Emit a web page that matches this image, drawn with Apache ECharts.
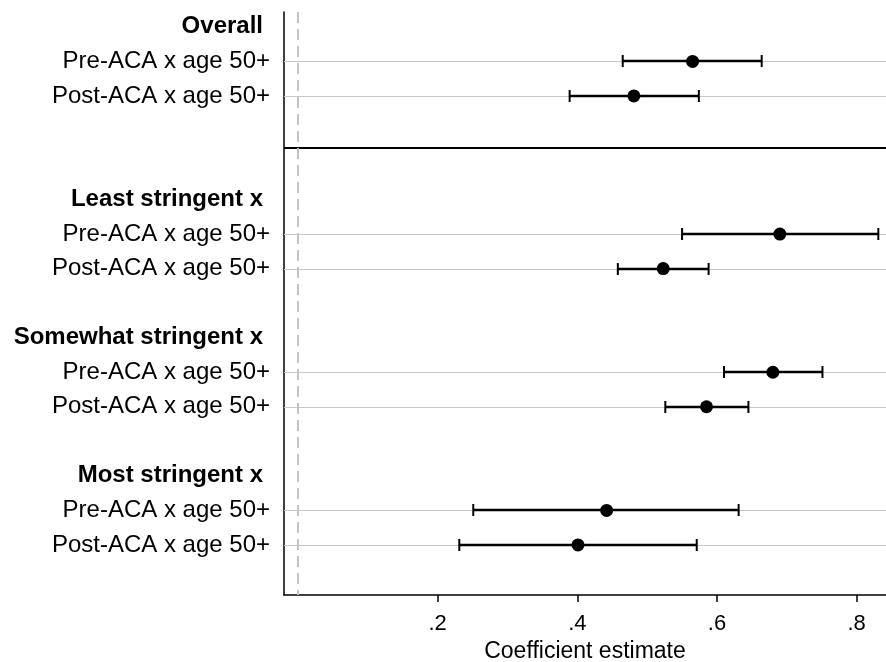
<!DOCTYPE html>
<html>
<head>
<meta charset="utf-8">
<script src="https://cdn.jsdelivr.net/npm/echarts@6/dist/echarts.min.js"></script>
<style>
html,body{margin:0;padding:0;background:#fff;}
#chart{width:886px;height:662px;}
</style>
</head>
<body>
<div id="chart"></div>
<script>
// Row labels (row index = position from top)
const rowLabels = [
  'Overall', 'Pre-ACA x age 50+', 'Post-ACA x age 50+', '', '',
  'Least stringent x', 'Pre-ACA x age 50+', 'Post-ACA x age 50+', '',
  'Somewhat stringent x', 'Pre-ACA x age 50+', 'Post-ACA x age 50+', '',
  'Most stringent x', 'Pre-ACA x age 50+', 'Post-ACA x age 50+'
];
const headerRows = [0, 5, 9, 13];
const coefRows = [1, 2, 6, 7, 10, 11, 14, 15];
const estimates = [0.565, 0.481, 0.690, 0.523, 0.680, 0.585, 0.442, 0.401];
const lowerCI  = [0.465, 0.389, 0.550, 0.458, 0.610, 0.526, 0.251, 0.231];
const upperCI  = [0.664, 0.574, 0.831, 0.588, 0.751, 0.645, 0.631, 0.571];
const xTicks = [0.2, 0.4, 0.6, 0.8];
const separatorRows = [3.5];
const referenceX = [0];

const labelRows = headerRows.concat(coefRows).sort((a, b) => a - b);
const FONT = 'Liberation Sans, Arial, Helvetica, sans-serif';

const chart = echarts.init(document.getElementById('chart'), null, {renderer: 'canvas'});

const ciData = coefRows.map((r, i) => [lowerCI[i], upperCI[i], r]);
const pointData = coefRows.map((r, i) => [estimates[i], r]);

function renderCI(params, api) {
  const lo = api.coord([api.value(0), api.value(2)]);
  const hi = api.coord([api.value(1), api.value(2)]);
  const cs = params.coordSys;
  const y = Math.round(lo[1]);
  const capH = 6;
  return {
    type: 'group',
    children: [
      {type: 'line', z2: 0, shape: {x1: cs.x, y1: y + 0.5, x2: cs.x + cs.width, y2: y + 0.5},
        style: {stroke: '#c8c8c8', lineWidth: 1}},
      {type: 'line', z2: 2, shape: {x1: lo[0], y1: y, x2: hi[0], y2: y},
        style: {stroke: '#000', lineWidth: 2.4}},
      {type: 'line', z2: 2, shape: {x1: lo[0], y1: y - capH, x2: lo[0], y2: y + capH},
        style: {stroke: '#000', lineWidth: 2}},
      {type: 'line', z2: 2, shape: {x1: hi[0], y1: y - capH, x2: hi[0], y2: y + capH},
        style: {stroke: '#000', lineWidth: 2}}
    ]
  };
}

const option = {
  animation: false,
  backgroundColor: '#fff',
  textStyle: {fontFamily: FONT},
  grid: {left: 284, right: 0, top: 12, bottom: 67, containLabel: false, outerBoundsMode: 'none'},
  xAxis: {
    type: 'value',
    position: 'bottom',
    min: -0.02,
    max: 0.842,
    name: 'Coefficient estimate',
    nameLocation: 'middle',
    nameGap: 40,
    nameTextStyle: {fontFamily: FONT, fontSize: 23, color: '#000'},
    axisLine: {show: true, onZero: false, lineStyle: {color: '#000', width: 1.5}},
    axisTick: {show: true, customValues: xTicks, length: 7, lineStyle: {color: '#000', width: 1.5}},
    axisLabel: {
      customValues: xTicks, margin: 18, fontFamily: FONT, fontSize: 22, color: '#000',
      formatter: v => String(Math.round(v * 10) / 10).replace(/^0/, '')
    },
    splitLine: {show: false}
  },
  yAxis: {
    type: 'value',
    position: 'left',
    inverse: true,
    min: -0.43,
    max: 16.45,
    axisLine: {show: true, onZero: false, lineStyle: {color: '#000', width: 1.5}},
    axisTick: {show: false},
    splitLine: {show: false},
    axisLabel: {
      customValues: labelRows,
      margin: 14,
      color: '#000',
      fontFamily: FONT,
      fontSize: 24,
      formatter: v => {
        const r = Math.round(v);
        const t = rowLabels[r] || '';
        return headerRows.indexOf(r) >= 0 ? '{h|' + t + '}' : '{n|' + t + '}';
      },
      rich: {
        h: {fontFamily: FONT, fontSize: 24, fontWeight: 'bold', color: '#000', padding: [0, 7, 0, 0]},
        n: {fontFamily: FONT, fontSize: 24, color: '#000'}
      }
    }
  },
  series: [
    {
      type: 'custom',
      renderItem: renderCI,
      data: ciData,
      encode: {x: [0, 1], y: 2},
      z: 2,
      markLine: {
        silent: true,
        symbol: 'none',
        label: {show: false},
        lineStyle: {color: '#000', width: 2, type: 'solid', opacity: 1},
        data: separatorRows.map(r => ({yAxis: r}))
      }
    },
    {
      type: 'scatter',
      data: pointData,
      symbol: 'circle',
      symbolSize: 13,
      itemStyle: {color: '#000', opacity: 1},
      z: 4,
      markLine: {
        silent: true,
        symbol: 'none',
        label: {show: false},
        lineStyle: {color: '#c4c4c4', width: 2, type: [11, 6], opacity: 1},
        data: referenceX.map(v => ({xAxis: v}))
      }
    }
  ]
};

chart.setOption(option);
</script>
</body>
</html>
